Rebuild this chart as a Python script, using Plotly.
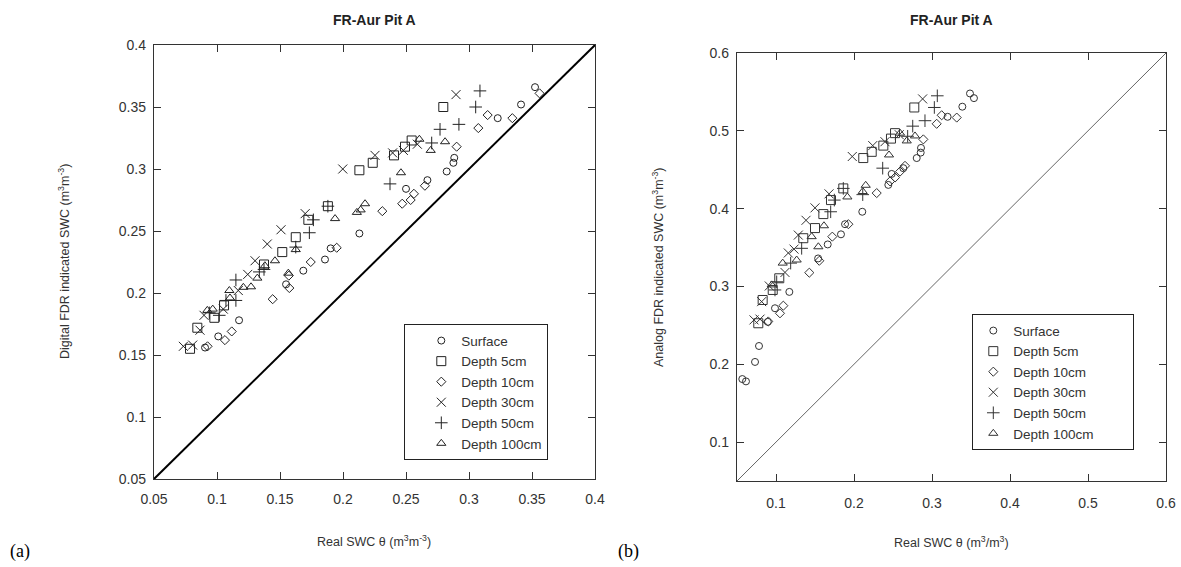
import plotly.graph_objects as go

# ---------------- data: panel (a) Digital FDR ----------------
a_surface_x = [0.0905, 0.101, 0.1175, 0.1548, 0.1685, 0.1857, 0.1902, 0.213, 0.25, 0.267, 0.2823, 0.2876, 0.2883, 0.3228, 0.3413, 0.3524]
a_surface_y = [0.156, 0.165, 0.178, 0.207, 0.218, 0.227, 0.236, 0.248, 0.284, 0.291, 0.298, 0.305, 0.309, 0.341, 0.352, 0.366]
a_d5_x = [0.0786, 0.0844, 0.0979, 0.1056, 0.1373, 0.1518, 0.1625, 0.1725, 0.188, 0.213, 0.2236, 0.2405, 0.2492, 0.2545, 0.2796]
a_d5_y = [0.155, 0.172, 0.180, 0.190, 0.223, 0.233, 0.245, 0.259, 0.270, 0.299, 0.305, 0.311, 0.318, 0.323, 0.350]
a_d10_x = [0.0925, 0.1063, 0.1117, 0.1442, 0.1574, 0.157, 0.1744, 0.195, 0.2312, 0.247, 0.2537, 0.2563, 0.265, 0.2902, 0.3074, 0.3148, 0.3344, 0.356]
a_d10_y = [0.157, 0.162, 0.169, 0.195, 0.204, 0.214, 0.225, 0.2365, 0.266, 0.272, 0.275, 0.280, 0.2865, 0.318, 0.333, 0.3435, 0.341, 0.361]
a_d30_x = [0.0733, 0.0807, 0.0865, 0.0897, 0.105, 0.1169, 0.1244, 0.1302, 0.1399, 0.1508, 0.170, 0.1998, 0.2254, 0.2394, 0.2479, 0.259, 0.2897]
a_d30_y = [0.157, 0.158, 0.170, 0.182, 0.187, 0.202, 0.215, 0.226, 0.2395, 0.251, 0.264, 0.300, 0.311, 0.313, 0.315, 0.320, 0.360]
a_d50_x = [0.0939, 0.1018, 0.1071, 0.115, 0.115, 0.1336, 0.1373, 0.1625, 0.1733, 0.1765, 0.188, 0.2373, 0.2704, 0.277, 0.292, 0.3053, 0.3087]
a_d50_y = [0.184, 0.182, 0.194, 0.194, 0.2105, 0.217, 0.219, 0.237, 0.2486, 0.259, 0.270, 0.288, 0.321, 0.332, 0.336, 0.350, 0.363]
a_d100_x = [0.0923, 0.0966, 0.1098, 0.1103, 0.1209, 0.127, 0.132, 0.138, 0.146, 0.1566, 0.1625, 0.1937, 0.211, 0.214, 0.2175, 0.246, 0.2606, 0.2696, 0.281]
a_d100_y = [0.186, 0.187, 0.202, 0.196, 0.2046, 0.205, 0.212, 0.222, 0.226, 0.216, 0.235, 0.260, 0.265, 0.267, 0.272, 0.297, 0.324, 0.315, 0.322]

# ---------------- data: panel (b) Analog FDR ----------------
b_surface_x = [0.0568, 0.0615, 0.0731, 0.0782, 0.0895, 0.0987, 0.1171, 0.154, 0.1663, 0.1833, 0.1885, 0.2106, 0.244, 0.2483, 0.2632, 0.2804, 0.2855, 0.2859, 0.320, 0.3389, 0.3487, 0.3538]
b_surface_y = [0.181, 0.178, 0.203, 0.2235, 0.2545, 0.272, 0.293, 0.336, 0.354, 0.367, 0.380, 0.396, 0.4305, 0.4446, 0.452, 0.465, 0.472, 0.478, 0.518, 0.531, 0.548, 0.542]
b_d5_x = [0.0773, 0.0829, 0.0958, 0.1042, 0.135, 0.15, 0.1607, 0.1705, 0.1863, 0.2119, 0.2227, 0.2376, 0.2474, 0.2526, 0.2773]
b_d5_y = [0.2527, 0.2826, 0.2955, 0.3105, 0.362, 0.375, 0.393, 0.411, 0.426, 0.465, 0.473, 0.481, 0.490, 0.497, 0.530]
b_d10_x = [0.0901, 0.1051, 0.1094, 0.1427, 0.1555, 0.1722, 0.1928, 0.2291, 0.2462, 0.2526, 0.259, 0.2654, 0.2889, 0.306, 0.3124, 0.3317]
b_d10_y = [0.255, 0.2655, 0.2753, 0.3177, 0.333, 0.364, 0.380, 0.420, 0.435, 0.440, 0.4476, 0.455, 0.489, 0.509, 0.520, 0.517]
b_d30_x = [0.0718, 0.0795, 0.0816, 0.0914, 0.1115, 0.1158, 0.1231, 0.1286, 0.1385, 0.15, 0.168, 0.1978, 0.224, 0.2397, 0.258, 0.288]
b_d30_y = [0.257, 0.258, 0.2805, 0.3006, 0.318, 0.343, 0.348, 0.366, 0.385, 0.401, 0.419, 0.467, 0.481, 0.486, 0.495, 0.541]
b_d50_x = [0.0987, 0.1009, 0.1188, 0.1329, 0.1701, 0.1748, 0.1863, 0.2112, 0.2368, 0.2688, 0.2753, 0.291, 0.303, 0.3068]
b_d50_y = [0.2955, 0.306, 0.330, 0.349, 0.396, 0.411, 0.426, 0.418, 0.452, 0.493, 0.506, 0.513, 0.530, 0.545]
b_d100_x = [0.0945, 0.1086, 0.1265, 0.1457, 0.1543, 0.1615, 0.1915, 0.2112, 0.215, 0.2449, 0.259, 0.2676, 0.2782]
b_d100_y = [0.302, 0.330, 0.334, 0.364, 0.351, 0.378, 0.415, 0.422, 0.430, 0.469, 0.497, 0.487, 0.4934]

# 1:1 lines
a_line = [0.05, 0.4]
b_line = [0.05, 0.6]

series_names = ["Surface", "Depth 5cm", "Depth 10cm", "Depth 30cm", "Depth 50cm", "Depth 100cm"]
symbols = ["circle-open", "square-open", "diamond-open", "x-thin-open", "cross-thin-open", "triangle-up-open"]
sizes = [7, 9, 7, 9, 9, 8]

a_data = [(a_surface_x, a_surface_y), (a_d5_x, a_d5_y), (a_d10_x, a_d10_y),
          (a_d30_x, a_d30_y), (a_d50_x, a_d50_y), (a_d100_x, a_d100_y)]
b_data = [(b_surface_x, b_surface_y), (b_d5_x, b_d5_y), (b_d10_x, b_d10_y),
          (b_d30_x, b_d30_y), (b_d50_x, b_d50_y), (b_d100_x, b_d100_y)]

fig = go.Figure()

fig.add_trace(go.Scatter(x=a_line, y=a_line, mode="lines", line=dict(color="black", width=2),
                         showlegend=False, xaxis="x", yaxis="y"))
fig.add_trace(go.Scatter(x=b_line, y=b_line, mode="lines", line=dict(color="#666666", width=1),
                         showlegend=False, xaxis="x2", yaxis="y2"))

for i, name in enumerate(series_names):
    xs, ys = a_data[i]
    fig.add_trace(go.Scatter(x=xs, y=ys, mode="markers", name=name, legend="legend",
                             marker=dict(symbol=symbols[i], size=sizes[i], color="#222222",
                                         line=dict(width=1, color="#222222")),
                             xaxis="x", yaxis="y"))
for i, name in enumerate(series_names):
    xs, ys = b_data[i]
    label = name + ("\u00a0" * 9 if name == "Depth 100cm" else "")
    fig.add_trace(go.Scatter(x=xs, y=ys, mode="markers", name=label, legend="legend2",
                             marker=dict(symbol=symbols[i], size=sizes[i], color="#333333",
                                         line=dict(width=1, color="#333333")),
                             xaxis="x2", yaxis="y2"))

W, H = 1181, 567


def px(v):
    return v / W


def py(v):
    return 1 - v / H


tickfont = dict(family="Arial, Liberation Sans, sans-serif", size=14, color="#333333")
axis_common = dict(showgrid=False, zeroline=False, showline=True, linecolor="#333333", linewidth=1.3,
                   mirror="ticks", ticks="inside", ticklen=7, tickcolor="#333333", tickwidth=1.3,
                   tickfont=tickfont, automargin=False)
legfont = dict(family="Arial, Liberation Sans, sans-serif", size=13.5, color="#333333")

fig.update_layout(
    width=W, height=H,
    margin=dict(l=0, r=0, t=0, b=0),
    paper_bgcolor="white", plot_bgcolor="white",
    xaxis=dict(domain=[px(154), px(595)], range=[0.05, 0.4], tick0=0.05, dtick=0.05,
               anchor="y", ticklabelstandoff=7, **axis_common),
    yaxis=dict(domain=[py(479), py(45)], range=[0.05, 0.4], tick0=0.05, dtick=0.05,
               anchor="x", ticklabelstandoff=4, **axis_common),
    xaxis2=dict(domain=[px(737), px(1166)], range=[0.05, 0.6],
                tickvals=[0.1, 0.2, 0.3, 0.4, 0.5, 0.6], anchor="y2", ticklabelstandoff=9, **axis_common),
    yaxis2=dict(domain=[py(481), py(53)], range=[0.05, 0.6],
                tickvals=[0.1, 0.2, 0.3, 0.4, 0.5, 0.6], anchor="x2", ticklabelstandoff=4, **axis_common),
    legend=dict(x=px(404), y=py(324), xanchor="left", yanchor="top",
                bordercolor="#222222", borderwidth=1.3, bgcolor="white",
                font=legfont, itemwidth=30, indentation=16, tracegroupgap=0),
    legend2=dict(x=px(972), y=py(314), xanchor="left", yanchor="top",
                 bordercolor="#222222", borderwidth=1.3, bgcolor="white",
                 font=legfont, itemwidth=30, tracegroupgap=0),
    showlegend=True,
    hovermode=False,
)

lab_font = dict(family="Arial, Liberation Sans, sans-serif", size=12.5, color="#333333")
title_font = dict(family="Arial, Liberation Sans, sans-serif", size=14, color="#222222")
serif = dict(family="Liberation Serif, Times New Roman, serif", size=18, color="black")
anns = [
    dict(text="<b>FR-Aur Pit A</b>", x=px(374), y=py(20), font=title_font),
    dict(text="<b>FR-Aur Pit A</b>", x=px(951), y=py(20), font=title_font),
    dict(text="Digital FDR indicated SWC (m<sup>3</sup>m<sup>-3</sup>)", x=px(64), y=py(262),
         textangle=-90, font=lab_font),
    dict(text="Analog FDR indicated SWC (m<sup>3</sup>m<sup>-3</sup>)", x=px(658), y=py(267),
         textangle=-90, font=lab_font),
    dict(text="Real SWC θ (m<sup>3</sup>m<sup>-3</sup>)", x=px(374), y=py(541), font=lab_font),
    dict(text="Real SWC θ (m<sup>3</sup>/m<sup>3</sup>)", x=px(951), y=py(542), font=lab_font),
    dict(text="(a)", x=px(20), y=py(551), font=serif),
    dict(text="(b)", x=px(628), y=py(551), font=serif),
]
for a in anns:
    fig.add_annotation(xref="paper", yref="paper", showarrow=False, xanchor="center", yanchor="middle", **a)

fig.write_html("out.html", config={"displayModeBar": False},
               post_script="document.body.style.margin='0px';document.body.style.overflow='hidden';")
